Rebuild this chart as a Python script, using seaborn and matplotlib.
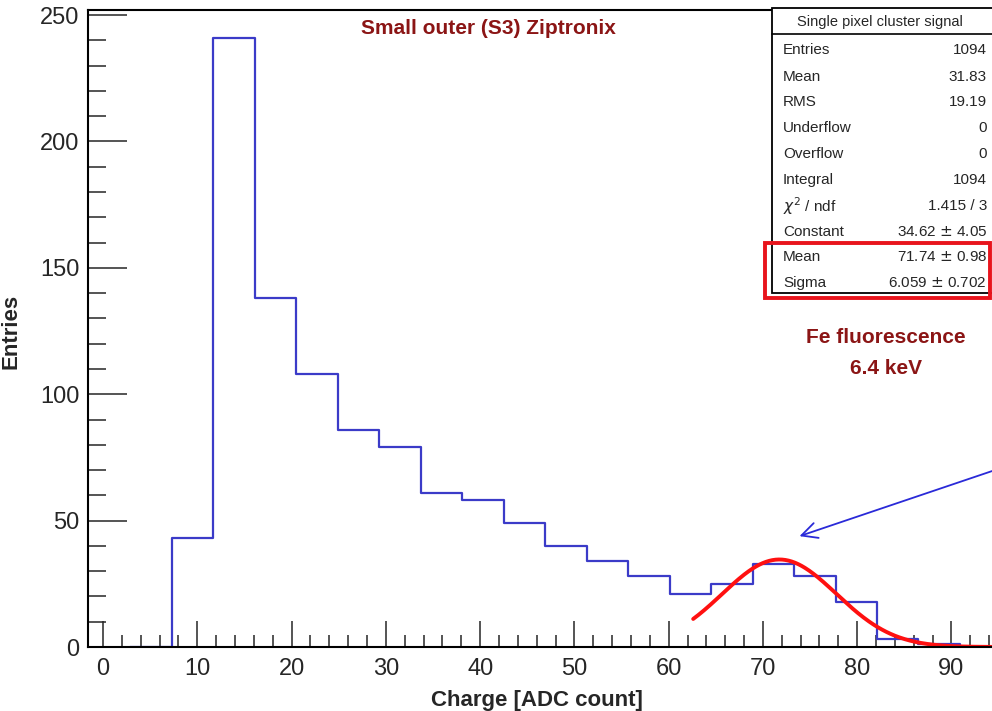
import numpy as np
import pandas as pd
import matplotlib.pyplot as plt
from matplotlib.patches import Rectangle
from matplotlib.ticker import MultipleLocator
import seaborn as sns

sns.set_style('ticks')
plt.rcParams['font.family'] = ['Liberation Sans', 'DejaVu Sans']

# histogram (empty bins on both sides so the outline drops to 0)
edges = [2.9 + 4.4 * i for i in range(22)]
counts = [0, 43, 241, 138, 108, 86, 79, 61, 58, 49, 40, 34, 28, 21, 25, 33, 28, 18, 3, 1, 0]
centers = [(edges[i] + edges[i + 1]) / 2 for i in range(len(counts))]

# gaussian fit parameters (from stats box)
g_const = 34.62
g_mean = 71.74
g_sigma = 6.059
fit_range = (62.6, 97.0)

stat_labels = ['Entries', 'Mean', 'RMS', 'Underflow', 'Overflow', 'Integral',
               r'$\chi^{2}$ / ndf', 'Constant', 'Mean', 'Sigma']
stat_values = ['1094', '31.83', '19.19', '0', '0', '1094', '1.415 / 3',
               '34.62 $\\pm$ 4.05', '71.74 $\\pm$ 0.98', '6.059 $\\pm$ 0.702']

df = pd.DataFrame({'charge': centers, 'n': counts})
xf = np.linspace(fit_range[0], fit_range[1], 300)
fit = pd.DataFrame({'x': xf, 'y': g_const * np.exp(-0.5 * ((xf - g_mean) / g_sigma) ** 2)})

W, H = 992, 711
fig = plt.figure(figsize=(W / 100, H / 100), dpi=100)
ax = fig.add_axes([88 / W, (H - 647) / H, 1 - 88 / W, (647 - 10) / H])

sns.histplot(data=df, x='charge', weights='n', bins=edges, element='step', fill=False,
             color='#3b3bc8', linewidth=1.6, ax=ax)
sns.lineplot(data=fit, x='x', y='y', color='#ff1010', linewidth=2.8, ax=ax)

ax.set_xlim(-1.6, 94.3)
ax.set_ylim(0, 252)
ax.xaxis.set_major_locator(MultipleLocator(10))
ax.xaxis.set_minor_locator(MultipleLocator(2))
ax.yaxis.set_major_locator(MultipleLocator(50))
ax.yaxis.set_minor_locator(MultipleLocator(10))
ax.tick_params(which='both', direction='in', top=False, right=False, labelsize=17, width=1.1)
ax.tick_params(axis='x', which='major', length=19, pad=8)
ax.tick_params(axis='x', which='minor', length=9)
ax.tick_params(axis='y', which='major', length=28, pad=6)
ax.tick_params(axis='y', which='minor', length=13)
for s in ['left', 'bottom', 'top']:
    ax.spines[s].set_linewidth(1.5)
    ax.spines[s].set_color('black')
ax.spines['right'].set_visible(False)

ax.set_xlabel('Charge [ADC count]', fontsize=16, fontweight='bold', labelpad=2)
ax.set_ylabel('Entries', fontsize=16, fontweight='bold', labelpad=14)
ax.xaxis.set_label_coords((537 - 88) / (W - 88), -(690 - 647) / (647 - 10))
ax.yaxis.set_label_coords(-(88 - 22) / (W - 88), (647 - 331) / (647 - 10))

dark_red = '#8b1515'
fig.text(488 / W, 1 - 28 / H, 'Small outer (S3) Ziptronix', color=dark_red, fontsize=15,
         fontweight='bold', ha='center', va='center')
fig.text(886 / W, 1 - 337 / H, 'Fe fluorescence', color=dark_red, fontsize=15,
         fontweight='bold', ha='center', va='center')
fig.text(886 / W, 1 - 368 / H, '6.4 keV', color=dark_red, fontsize=15,
         fontweight='bold', ha='center', va='center')

ax.annotate('', xy=(73.6, 43.5), xytext=(97, 73),
            arrowprops=dict(arrowstyle='->', color='#2a2ad8', lw=1.3, mutation_scale=28),
            annotation_clip=False)

# stats box in pixel coordinates
def fx(px):
    return px / W

def fy(py):
    return 1 - py / H

fig.patches.append(Rectangle((fx(772), fy(293)), fx(1000) - fx(772), fy(8) - fy(293),
                             transform=fig.transFigure, facecolor='white',
                             edgecolor='black', linewidth=1.3, zorder=5))
fig.lines.append(plt.Line2D([fx(772), fx(1000)], [fy(34), fy(34)], transform=fig.transFigure,
                            color='black', linewidth=1.2, zorder=6))
fig.text(fx(880), fy(22), 'Single pixel cluster signal', fontsize=10.5, ha='center',
         va='center', zorder=7)
row_y = [50, 77, 102, 128, 154, 180, 206, 232, 257, 283]
for lab, val, ry in zip(stat_labels, stat_values, row_y):
    fig.text(fx(783), fy(ry), lab, fontsize=11, ha='left', va='center', zorder=7)
    fig.text(fx(987), fy(ry), val, fontsize=11, ha='right', va='center', zorder=7)
fig.patches.append(Rectangle((fx(765), fy(298)), fx(990) - fx(765), fy(243) - fy(298),
                             transform=fig.transFigure, facecolor='none',
                             edgecolor='#e8141c', linewidth=2.8, zorder=8))

fig.savefig('out.png', dpi=100)
